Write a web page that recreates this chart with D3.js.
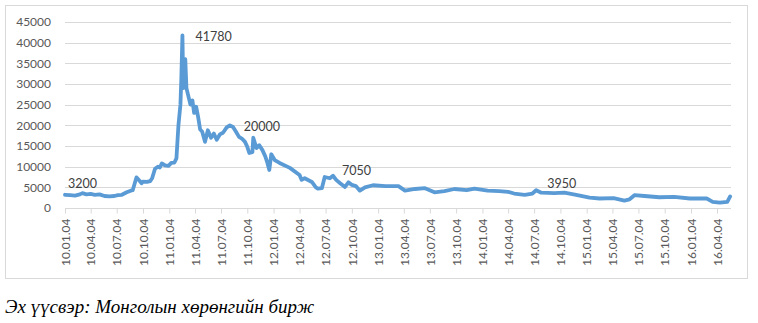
<!DOCTYPE html>
<html>
<head>
<meta charset="utf-8" />
<title>Хувьцааны үнэ</title>
<script src="https://cdn.jsdelivr.net/npm/d3@7"></script>
<style>
body{margin:0;background:#fff;}
svg{display:block;}
.src{font-family:"Liberation Serif","Times New Roman","DejaVu Serif",serif;font-style:italic;font-size:19px;}
</style>
</head>
<body>
<svg id="chart" width="758" height="323"></svg>
<script>
// ханшийн огноо (он-сар-өдөр), зургаас уншсан
var dates = [
"2010-01-04","2010-01-22","2010-02-08","2010-02-25","2010-03-06","2010-03-20","2010-04-04","2010-04-18",
"2010-05-05","2010-05-22","2010-06-08","2010-06-26","2010-07-08","2010-07-22","2010-08-08","2010-08-22",
"2010-08-29","2010-09-11","2010-09-22","2010-09-29","2010-10-04","2010-10-18","2010-10-29","2010-11-05",
"2010-11-15","2010-11-25","2010-12-02","2010-12-09","2010-12-20","2011-01-01","2011-01-11","2011-01-22",
"2011-01-29","2011-02-05","2011-02-12","2011-02-15","2011-02-19","2011-02-22","2011-02-26","2011-03-01",
"2011-03-05","2011-03-12","2011-03-19","2011-03-26","2011-04-01","2011-04-08","2011-04-15","2011-04-22",
"2011-04-29","2011-05-09","2011-05-19","2011-05-30","2011-06-09","2011-06-19","2011-06-30","2011-07-11",
"2011-07-24","2011-08-04","2011-08-15","2011-08-25","2011-09-05","2011-09-15","2011-09-26","2011-10-04",
"2011-10-11","2011-10-22","2011-10-25","2011-11-05","2011-11-15","2011-11-26","2011-12-06","2011-12-13",
"2011-12-20","2011-12-27","2012-01-08","2012-01-25","2012-03-01","2012-04-04","2012-04-11","2012-04-22",
"2012-05-17","2012-05-31","2012-06-07","2012-06-21","2012-07-01","2012-07-19","2012-07-30","2012-08-10",
"2012-08-24","2012-09-10","2012-09-22","2012-10-04","2012-10-18","2012-11-01","2012-11-19","2012-12-17",
"2013-01-30","2013-03-16","2013-04-08","2013-05-13","2013-06-17","2013-07-20","2013-08-24","2013-09-28",
"2013-11-10","2013-12-07","2014-01-22","2014-03-04","2014-04-04","2014-04-25","2014-06-01","2014-06-28",
"2014-07-11","2014-07-29","2014-09-12","2014-10-18","2014-11-28","2015-01-14","2015-02-18","2015-04-08",
"2015-05-16","2015-06-03","2015-06-20","2015-07-25","2015-09-15","2015-11-06","2015-12-31","2016-02-28",
"2016-03-20","2016-04-14","2016-05-10","2016-05-20"
];
// үнэ (төгрөг)
var prices = [
3200,3100,3000,3300,3600,3300,3400,3200,
3300,2900,2800,2900,3100,3200,3800,4200,
4300,7400,6600,6000,6400,6300,6500,7200,
9500,10000,9800,10800,10300,10200,10900,11000,
12000,20000,25000,31000,41780,29000,33000,36000,
29000,27000,25000,26000,23000,24500,22000,19000,
18500,16000,18800,17000,18000,16500,17800,18200,
19500,20000,19600,18500,17200,16800,16000,14800,
13300,13500,17000,14500,15200,14000,12500,11000,
9200,13000,11600,10900,9700,8000,6800,7200,
6300,5000,4700,4800,7500,7200,7800,6800,
6000,5100,6200,5600,5300,4200,5000,5500,
5300,5300,4200,4600,4800,3800,4100,4600,
4300,4700,4200,4100,3900,3500,3200,3500,
4300,3700,3600,3700,3200,2500,2300,2400,
1800,2100,3100,2900,2600,2700,2300,2300,
1500,1300,1500,2800
];
// тэмдэглэсэн утгууд
var noteDates = ["2010-01-04","2011-02-19","2011-08-04","2012-07-30","2014-07-11"];
var noteTexts = ["3200","41780","20000","7050","3950"];
var yTicks = [0,5000,10000,15000,20000,25000,30000,35000,40000,45000];

var parse = d3.timeParse("%Y-%m-%d");
var fmt = d3.timeFormat("%y.%m.%d");
var svg = d3.select("#chart");

svg.append("rect").attr("x",5.5).attr("y",5.5).attr("width",742).attr("height",273)
  .attr("fill","none").attr("stroke","#d9d9d9");

var x = d3.scaleTime().domain([parse("2010-01-04"), parse("2016-04-04")]).range([65, 717]);
var y = d3.scaleLinear().domain([0, 45000]).range([208, 22]);
var xEnd = 731;

// торон шугам
svg.append("g").selectAll("line").data(yTicks).enter().append("line")
  .attr("x1",65).attr("x2",xEnd)
  .attr("y1",function(d){return Math.round(y(d))+0.5;})
  .attr("y2",function(d){return Math.round(y(d))+0.5;})
  .attr("stroke","#d9d9d9");

var yAxis = d3.axisLeft(y).tickValues(yTicks).tickFormat(d3.format("d")).tickSize(0).tickPadding(0);
var gy = svg.append("g").attr("transform","translate(51,0)").call(yAxis);
gy.select(".domain").remove();
gy.selectAll("text").attr("fill","#595959").style("font","12px Lato");

// X тэнхлэг: улирал бүр
var qTicks = d3.timeMonth.every(3).range(parse("2010-01-01"), parse("2016-05-01"))
  .map(function(d){return d3.timeDay.offset(d,3);});
var xAxis = d3.axisBottom(x).tickValues(qTicks).tickFormat(fmt).tickSize(5).tickSizeOuter(0);
var gx = svg.append("g").attr("transform","translate(0,208.5)").call(xAxis);
gx.select(".domain").attr("d","M65,0H"+xEnd).attr("stroke","#d9d9d9");
gx.selectAll(".tick line").attr("stroke","#d9d9d9");
gx.selectAll("text").attr("fill","#595959").style("font","12px Lato")
  .attr("text-anchor","end").attr("transform","rotate(-90)")
  .attr("x",-10).attr("y",0).attr("dy","0.35em");

var pts = dates.map(function(d,i){return {date:parse(d), v:prices[i]};});
var line = d3.line().x(function(d){return x(d.date);}).y(function(d){return y(d.v);});
svg.append("path").datum(pts).attr("d",line)
  .attr("fill","none").attr("stroke","#5b9bd5").attr("stroke-width",3.8)
  .attr("stroke-linejoin","round").attr("stroke-linecap","round");

// тэмдэглэгээ
var noteDx = [3, 13, 14, 9, 11];
var noteDy = [-7, 6, 6, -1, -2];
svg.append("g").selectAll("text").data(noteTexts).enter().append("text")
  .attr("x",function(d,i){var p=pts[dates.indexOf(noteDates[i])];return x(p.date)+noteDx[i];})
  .attr("y",function(d,i){var p=pts[dates.indexOf(noteDates[i])];return y(p.v)+noteDy[i];})
  .attr("fill","#404040").style("font","12.5px Lato")
  .text(function(d){return d;});

svg.append("text").attr("class","src").attr("x",5).attr("y",313).attr("fill","#000")
  .text("Эх үүсвэр: Монголын хөрөнгийн бирж");
</script>
</body>
</html>
